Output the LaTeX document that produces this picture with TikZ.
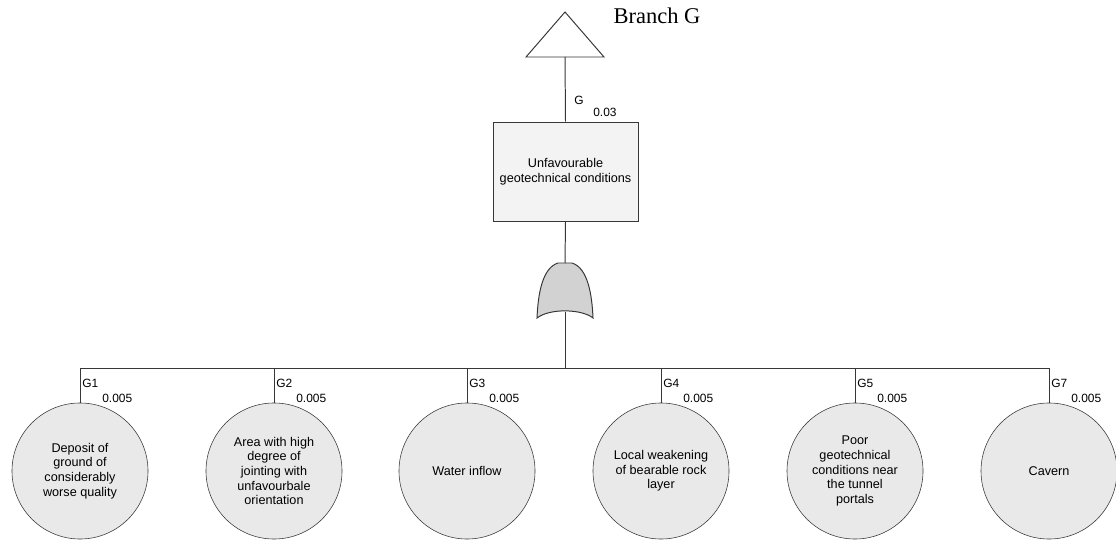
\documentclass[tikz,border=0pt]{standalone}
\usepackage{fontspec}
\setmainfont{Liberation Serif}
\setsansfont{Liberation Sans}
\usetikzlibrary{positioning}
\definecolor{boxgrey}{RGB}{243,243,243}
\definecolor{eventgrey}{RGB}{233,233,233}
\definecolor{gategrey}{RGB}{210,210,210}
\definecolor{linegrey}{RGB}{55,55,55}

\tikzset{
  event/.style={circle, draw=linegrey, fill=eventgrey, minimum size=3.4cm, inner sep=0pt,
    align=center, font=\sffamily\fontsize{9}{10.4}\selectfont},
  topevent/.style={rectangle, draw=linegrey, fill=boxgrey, minimum width=3.625cm,
    minimum height=2.475cm, align=center, font=\sffamily\fontsize{9}{10.4}\selectfont},
  tag/.style={anchor=west, inner sep=0pt, font=\sffamily\fontsize{8.5}{10}\selectfont},
  link/.style={draw=linegrey, line width=0.7pt}
}

\begin{document}
\begin{tikzpicture}[x=0.025cm, y=-0.025cm]
\useasboundingbox (0,0) rectangle (1116,544);

% Transfer triangle and title
\draw[link] (565,12) -- (604,57) -- (526,57) -- cycle;
\coordinate (trans) at (565,57);
\node[font=\fontsize{16}{18}\selectfont] (title) at (657,16) {Branch G};

% Top event
\node[topevent] (top) at (565.5,171.5) {Unfavourable\\geotechnical conditions};
\node[tag] (toptag) at (574,100) {G};
\node[tag] (topprob) at (593,112) {0.03};

% OR gate
\coordinate (gatetop) at (565,263);
\coordinate (gatebot) at (565,312);
\filldraw[link, fill=gategrey] (558,263) -- (572,263)
    .. controls (588,268) and (592,295) .. (593,318)
    .. controls (582,309) and (550,308) .. (537,318)
    .. controls (538,295) and (542,268) .. (558,263) -- cycle;

% Basic events
\def\evy{471}
\node[event] (g1) at (80,\evy)   {Deposit of\\ground of\\considerably\\worse quality};
\node[event] (g2) at (274,\evy)  {Area with high\\degree of\\jointing with\\unfavourbale\\orientation};
\node[event] (g3) at (467,\evy)  {Water inflow};
\node[event] (g4) at (661,\evy)  {Local weakening\\of bearable rock\\layer};
\node[event] (g5) at (855,\evy)  {Poor\\geotechnical\\conditions near\\the tunnel\\portals};
\node[event] (g7) at (1049,\evy) {Cavern};

% Event tags
\node[tag] (t1) at (82,383)   {G1};   \node[tag] (p1) at (102,398)  {0.005};
\node[tag] (t2) at (276,383)  {G2};   \node[tag] (p2) at (296,398)  {0.005};
\node[tag] (t3) at (469,383)  {G3};   \node[tag] (p3) at (489,398)  {0.005};
\node[tag] (t4) at (663,383)  {G4};   \node[tag] (p4) at (683,398)  {0.005};
\node[tag] (t5) at (857,383)  {G5};   \node[tag] (p5) at (877,398)  {0.005};
\node[tag] (t7) at (1051,383) {G7};   \node[tag] (p7) at (1071,398) {0.005};

% Connections
\coordinate (bus) at (565,368);
\draw[link] (trans) -- (top.north);
\draw[link] (top.south) -- (gatetop);
\draw[link] (gatebot) -- (bus);
\draw[link] (g1.north |- bus) -- (g7.north |- bus);
\draw[link] (g1.north) -- (g1.north |- bus);
\draw[link] (g2.north) -- (g2.north |- bus);
\draw[link] (g3.north) -- (g3.north |- bus);
\draw[link] (g4.north) -- (g4.north |- bus);
\draw[link] (g5.north) -- (g5.north |- bus);
\draw[link] (g7.north) -- (g7.north |- bus);
\end{tikzpicture}
\end{document}
